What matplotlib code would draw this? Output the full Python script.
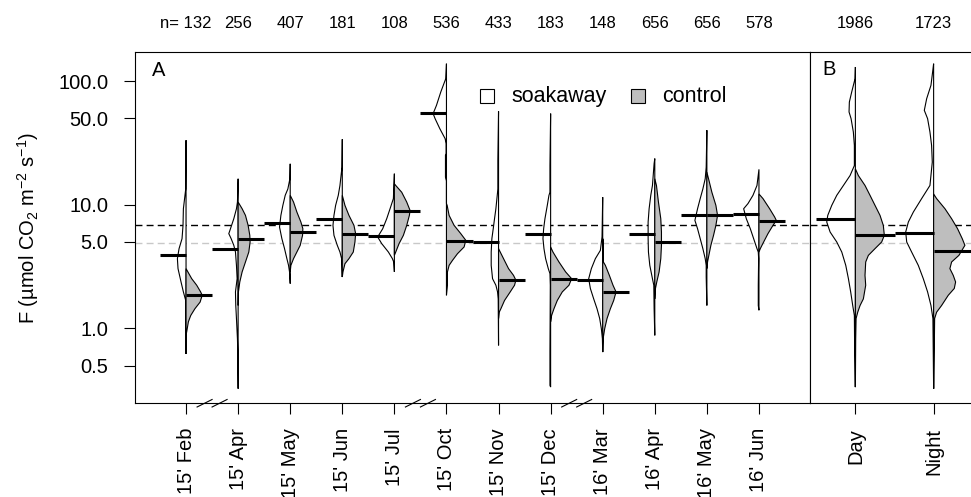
import numpy as np
import matplotlib
matplotlib.use("Agg")
import matplotlib.pyplot as plt
from matplotlib.patches import Rectangle
from matplotlib.transforms import blended_transform_factory

# ---- data (F in umol CO2 m-2 s-1, widths in x units) ----
months = ["15' Feb", "15' Apr", "15' May", "15' Jun", "15' Jul", "15' Oct",
          "15' Nov", "15' Dec", "16' Mar", "16' Apr", "16' May", "16' Jun"]
n_months = ["n= 132", "256", "407", "181", "108", "536", "433", "183", "148", "656", "656", "578"]
periods = ["Day", "Night"]
n_periods = ["1986", "1723"]
breaks_at = [1.5, 5.5, 8.5]

soak_med_A = [3.89, 4.41, 7.10, 7.70, 5.55, 55.1, 4.99, 5.83, 2.45, 5.79, 8.19, 8.45]
ctrl_med_A = [1.87, 5.24, 5.97, 5.79, 8.88, 5.08, 2.45, 2.49, 1.97, 4.96, 8.19, 7.37]
soak_med_B = [7.70, 5.90]
ctrl_med_B = [5.65, 4.22]

soak_F_A = [
    [33.2, 13.4, 9.27, 6.80, 5.31, 4.41, 3.66, 3.04, 2.37, 1.97, 1.68, 1.20, 0.62],
    [16.2, 10.5, 9.27, 7.70, 6.39, 5.83, 5.31, 4.69, 4.14, 3.23, 2.52, 1.97, 1.53, 1.20, 0.82, 0.64, 0.325],
    [21.4, 16.2, 13.4, 11.9, 9.87, 8.19, 6.59, 5.31, 4.41, 3.66, 3.23, 2.86, 2.30],
    [33.8, 20.1, 14.3, 11.9, 9.87, 8.19, 6.80, 5.65, 4.69, 4.14, 3.66, 2.60],
    [17.8, 11.2, 9.27, 7.70, 6.39, 5.48, 4.84, 4.14, 3.66, 3.44, 2.86],
    [138, 104.5, 81.5, 63.5, 54.5, 49.6, 41.2, 34.2, 31.2, 25.9, 25.1, 16.7, 15.6, 10.2],
    [56.8, 22.9, 13.4, 12.6, 9.27, 7.70, 6.39, 5.31, 4.14, 3.23, 2.52, 2.23, 1.97, 1.73, 0.728],
    [54.5, 20.7, 12.6, 11.9, 9.87, 7.70, 6.39, 5.31, 4.41, 3.66, 3.04, 2.77, 2.23, 0.643, 0.346, 0.335],
    [11.5, 5.48, 4.27, 3.66, 3.04, 2.52, 2.10, 1.73, 1.44, 1.20, 0.993, 0.824, 0.643],
    [23.6, 21.5, 14.3, 11.9, 9.27, 7.24, 5.31, 4.14, 3.23, 2.52, 2.23, 1.44, 0.877],
    [40.0, 20.1, 16.2, 13.4, 11.2, 9.27, 7.46, 6.39, 5.31, 4.41, 3.66, 3.23, 2.60, 1.53],
    [19.3, 14.3, 11.9, 10.2, 9.27, 7.70, 6.39, 5.31, 4.41, 4.14, 3.66, 2.23, 1.53, 1.40],
]
soak_w_A = [
    [0, .006, .051, .058, .077, .134, .166, .154, .096, .051, .006, .006, 0],
    [0, .013, .032, .083, .147, .179, .134, .083, .051, .032, .019, .051, .045, .032, .013, .006, 0],
    [0, .006, .045, .096, .141, .179, .205, .160, .109, .064, .032, .013, 0],
    [0, .006, .045, .077, .128, .160, .179, .160, .096, .045, .013, 0],
    [0, .019, .083, .147, .224, .320, .243, .115, .038, .013, 0],
    [0, .013, .109, .192, .256, .218, .128, .026, .006, .006, .019, .019, 0, 0],
    [0, .013, .013, .019, .051, .077, .102, .128, .141, .141, .115, .051, .019, .006, 0],
    [0, .013, .013, .032, .064, .109, .134, .147, .128, .096, .045, .013, .006, .013, .013, 0],
    [0, .013, .045, .141, .218, .269, .237, .173, .109, .058, .026, .006, 0],
    [0, .013, .045, .077, .109, .128, .128, .122, .096, .045, .019, .013, 0],
    [0, .013, .032, .077, .128, .179, .230, .179, .128, .077, .032, .013, .013, 0],
    [0, .038, .115, .211, .294, .243, .166, .102, .038, .013, .006, .013, .013, 0],
]
ctrl_F_A = [
    [3.04, 2.52, 2.23, 1.97, 1.85, 1.63, 1.44, 1.27, 1.13, 0.94, 0.88],
    [10.5, 9.27, 8.19, 6.80, 5.65, 4.99, 4.14, 3.44, 2.86, 2.37, 1.97, 1.53],
    [11.9, 10.5, 8.72, 7.24, 6.39, 5.65, 4.69, 4.14, 3.66, 3.23, 2.86],
    [11.9, 9.87, 8.19, 6.80, 5.83, 4.99, 4.14, 3.66, 3.33, 2.86, 2.60],
    [14.75, 14.3, 12.6, 10.5, 8.99, 8.19, 6.80, 5.65, 4.84, 4.14, 3.89],
    [10.2, 9.87, 8.19, 6.80, 5.83, 5.15, 4.55, 4.01, 3.54, 3.23, 2.86, 2.23, 1.85],
    [4.41, 3.66, 3.04, 2.68, 2.45, 2.23, 1.97, 1.68, 1.44, 1.35, 1.20],
    [4.55, 4.14, 3.44, 2.86, 2.52, 2.23, 1.97, 1.68, 1.44, 1.27, 1.13],
    [5.31, 5.15, 3.44, 3.23, 2.68, 2.23, 1.97, 1.68, 1.44, 1.20, 0.993, 0.85, 0.643],
    [16.2, 14.3, 10.5, 7.70, 6.01, 4.69, 3.66, 2.86, 2.37, 2.10, 1.73],
    [18.3, 16.2, 12.6, 9.87, 8.19, 6.80, 5.65, 4.69, 3.89, 3.44, 3.04],
    [12.2, 11.2, 9.27, 7.95, 7.46, 6.80, 5.83, 4.99, 4.41, 4.14],
]
ctrl_w_A = [
    [0, .109, .205, .280, .310, .270, .170, .090, .045, .013, 0],
    [0, .077, .141, .192, .224, .230, .205, .141, .077, .032, .006, 0],
    [0, .064, .128, .205, .243, .237, .192, .128, .064, .013, 0],
    [0, .051, .128, .224, .256, .243, .211, .128, .051, .013, 0],
    [0, .026, .141, .237, .301, .288, .237, .173, .090, .026, 0],
    [0, .013, .051, .147, .275, .371, .339, .211, .115, .051, .019, .019, 0],
    [0, .096, .192, .288, .333, .307, .224, .115, .045, .013, 0],
    [0, .045, .160, .288, .403, .352, .224, .128, .064, .019, 0],
    [0, .013, .013, .051, .128, .198, .256, .211, .147, .083, .038, .013, 0],
    [0, .032, .070, .115, .128, .128, .115, .083, .038, .013, 0],
    [0, .032, .096, .173, .205, .173, .128, .077, .038, .013, 0],
    [0, .077, .205, .301, .333, .269, .173, .090, .026, 0],
]

soak_F_B = [
    [129.8, 104.5, 81.5, 67.6, 56.2, 49.6, 38.7, 30.2, 20.7, 17.2, 14.3, 11.9, 9.87, 8.19,
     7.24, 6.01, 4.99, 4.14, 3.23, 2.52, 1.97, 1.53, 1.27, 0.643, 0.335],
    [138, 118, 92.3, 71.9, 57.9, 49.6, 38.7, 30.2, 22.1, 14.3, 11.2, 8.72, 7.24, 6.01,
     4.99, 4.14, 3.23, 2.52, 1.97, 1.53, 1.20, 0.325],
]
soak_w_B = [
    [0, .004, .047, .077, .081, .055, .026, .013, .013, .068, .153, .238, .302, .353,
     .366, .323, .238, .174, .123, .089, .060, .034, .013, .009, 0],
    [0, .013, .034, .089, .119, .077, .047, .026, .017, .047, .153, .259, .323, .357,
     .344, .281, .196, .132, .077, .034, .009, 0],
]
ctrl_F_B = [
    [19.5, 17.2, 14.3, 11.9, 9.87, 8.19, 6.80, 5.65, 4.99, 4.41, 3.89, 3.44, 2.68, 2.23,
     1.73, 1.53, 1.35, 1.20, 0.82, 0.335],
    [12.2, 11.2, 9.27, 7.70, 6.39, 5.31, 4.69, 3.89, 3.44, 3.04, 2.68, 2.37, 2.10, 1.85,
     1.53, 1.35, 1.20, 0.728, 0.325],
]
ctrl_w_B = [
    [0, .038, .123, .187, .251, .315, .357, .370, .336, .251, .166, .132, .123, .132,
     .102, .060, .030, .009, .004, 0],
    [0, .038, .145, .230, .306, .366, .400, .323, .230, .208, .251, .281, .264, .187,
     .102, .038, .013, .009, 0],
]

ref_black = 6.85
ref_grey = 4.93

# ---- style ----
plt.rcParams["font.family"] = ["Liberation Sans", "DejaVu Sans"]
plt.rcParams["mathtext.fontset"] = "custom"
plt.rcParams["mathtext.rm"] = "Liberation Sans"
plt.rcParams["mathtext.it"] = "Liberation Sans:italic"
plt.rcParams["mathtext.bf"] = "Liberation Sans:bold"

TICK_FS = 14.5
LW = 0.8
GREY_FILL = "#bebebe"


def draw_beans(ax, soakF, soakW, ctrlF, ctrlW, soak_med, ctrl_med):
    for i in range(len(soakF)):
        c = i + 1
        ax.fill(c - np.asarray(soakW[i]), soakF[i], facecolor="white",
                edgecolor="black", linewidth=LW, zorder=2)
        ax.fill(c + np.asarray(ctrlW[i]), ctrlF[i], facecolor=GREY_FILL,
                edgecolor="black", linewidth=LW, zorder=2)
        ax.plot([c - 0.5, c], [soak_med[i], soak_med[i]], color="black",
                linewidth=2.2, solid_capstyle="butt", zorder=3)
        ax.plot([c, c + 0.5], [ctrl_med[i], ctrl_med[i]], color="black",
                linewidth=2.2, solid_capstyle="butt", zorder=3)


def style_axes(ax):
    ax.set_yscale("log")
    ax.set_ylim(0.249, 171.6)
    ax.axhline(ref_black, color="black", linewidth=1.0, dashes=(5, 3), zorder=1)
    ax.axhline(ref_grey, color="#c8c8c8", linewidth=1.0, dashes=(5, 3), zorder=1)
    for sp in ax.spines.values():
        sp.set_linewidth(LW)
    ax.tick_params(axis="x", length=8, width=LW, pad=10, labelsize=TICK_FS)
    ax.minorticks_off()


fig = plt.figure(figsize=(9.71, 4.97), dpi=100)
axA = fig.add_axes([135 / 971, 94 / 497, 675 / 971, 351 / 497])
axB = fig.add_axes([810 / 971, 94 / 497, 169 / 971, 351 / 497])

for ax in (axA, axB):
    style_axes(ax)

draw_beans(axA, soak_F_A, soak_w_A, ctrl_F_A, ctrl_w_A, soak_med_A, ctrl_med_A)
draw_beans(axB, soak_F_B, soak_w_B, ctrl_F_B, ctrl_w_B, soak_med_B, ctrl_med_B)

axA.set_xlim(0.02, 12.98)
axB.set_xlim(0.42, 2.58)

axA.set_xticks(range(1, len(months) + 1))
axA.set_xticklabels(months, rotation=90)
axB.set_xticks(range(1, len(periods) + 1))
axB.set_xticklabels(periods, rotation=90)

yt = [0.5, 1.0, 5.0, 10.0, 50.0, 100.0]
axA.set_yticks(yt)
axA.set_yticklabels([f"{v:.1f}" for v in yt])
axA.tick_params(axis="y", length=8, width=LW, pad=11, labelsize=TICK_FS)
axB.set_yticks([])

# n labels above the panels
for ax, labs in ((axA, n_months), (axB, n_periods)):
    tr = blended_transform_factory(ax.transData, fig.transFigure)
    for i, lab in enumerate(labs):
        ax.text(i + 1, 1 - 24 / 497, lab, transform=tr, ha="center", va="center",
                fontsize=12, clip_on=False)

# axis break marks
trb = blended_transform_factory(axA.transData, axA.transAxes)
for b in breaks_at:
    for s in (-1, 0):
        x0 = b + s * 0.288
        axA.plot([x0, x0 + 0.288], [-0.0114, 0.010], color="black", linewidth=LW,
                 transform=trb, clip_on=False, zorder=4)

# panel letters
axA.text(0.025, 0.975, "A", transform=axA.transAxes, ha="left", va="top", fontsize=TICK_FS)
axB.text(0.071, 0.978, "B", transform=axB.transAxes, ha="left", va="top", fontsize=TICK_FS)

# legend
for x0, fc, lab in ((0.5111, "white", "soakaway"), (0.7348, GREY_FILL, "control")):
    axA.add_patch(Rectangle((x0, 0.855), 0.0207, 0.0399, transform=axA.transAxes,
                            facecolor=fc, edgecolor="black", linewidth=LW, zorder=5))
    axA.text(x0 + 0.0207 + 0.026, 0.8746, lab, transform=axA.transAxes,
             ha="left", va="center", fontsize=15.5, zorder=5)

fig.text(28 / 971, 1 - 228 / 497, r"F (µmol CO$_2$ m$^{-2}$ s$^{-1}$)",
         rotation=90, ha="center", va="center", fontsize=14.5)

fig.savefig("out.png", dpi=100)
